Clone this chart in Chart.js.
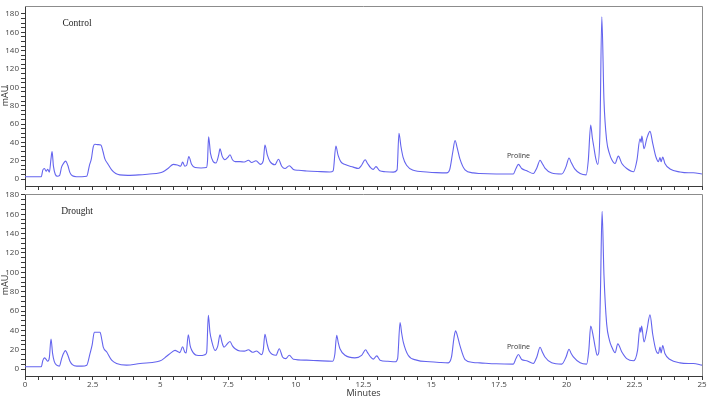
<!DOCTYPE html>
<html>
<head>
<meta charset="utf-8">
<script src="https://cdn.jsdelivr.net/npm/chart.js@4.4.1/dist/chart.umd.min.js"></script>
<style>
  html, body { margin: 0; padding: 0; background: #fff; }
  #wrap { position: relative; width: 709px; height: 397px; overflow: hidden; }
  #c1 { position: absolute; left: 0; top: 0; }
  #c2 { position: absolute; left: 0; top: 190px; }
</style>
</head>
<body>
<div id="wrap">
  <canvas id="c1" width="709" height="190"></canvas>
  <canvas id="c2" width="709" height="207"></canvas>
</div>
<script>
// ---------- DATA ----------
const panelLabels = ["Control", "Drought"];
const xTickLabels = [0, 2.5, 5, 7.5, 10, 12.5, 15, 17.5, 20, 22.5, 25];
const yTickLabels = [0, 20, 40, 60, 80, 100, 120, 140, 160, 180];
const xMinorStep = 0.5;
const yMinorStep = 5;
const prolineLabel = "Proline";
const prolineTime = 18.22;
const prolinePeak = [16, 15];

const controlTime = [0,0.6,0.66,0.72,0.78,0.84,0.9,0.96,1.0,1.05,1.12,1.2,1.28,1.35,1.42,1.5,1.58,1.66,1.75,1.9,2.1,2.28,2.38,2.45,2.52,2.58,2.7,2.8,2.88,2.95,3.05,3.2,3.35,3.5,3.8,4.2,4.6,4.95,5.1,5.3,5.48,5.65,5.75,5.82,5.9,5.97,6.05,6.15,6.28,6.5,6.7,6.74,6.78,6.85,6.95,7.05,7.15,7.2,7.28,7.38,7.5,7.57,7.66,7.76,7.94,8.1,8.25,8.37,8.53,8.7,8.8,8.86,8.95,9.05,9.23,9.36,9.48,9.6,9.76,9.91,10.1,10.4,10.8,11.26,11.38,11.48,11.56,11.66,11.8,12.12,12.31,12.43,12.56,12.65,12.76,12.86,12.96,13.1,13.3,13.6,13.74,13.81,13.88,13.96,14.09,14.34,14.83,15.2,15.57,15.68,15.8,15.88,15.96,16.06,16.25,16.55,16.8,17.4,18.03,18.13,18.22,18.34,18.53,18.77,18.9,19.02,19.1,19.2,19.45,19.82,19.98,20.09,20.17,20.3,20.5,20.72,20.8,20.89,20.95,21.0,21.08,21.15,21.23,21.3,21.38,21.48,21.58,21.67,21.79,21.91,22.04,22.22,22.47,22.6,22.71,22.75,22.78,22.86,22.96,23.08,23.18,23.3,23.39,23.45,23.49,23.55,23.63,23.82,24.19,24.5,24.68,25];
const controlSignal = [2.5,2.5,10,11.5,8.5,10.5,7.5,22,30,14,5,3,4,13,17,19.5,15,7,3.5,2.5,2.5,3,15,22,35,38,37.5,37,30,22,17,10,6,4.5,4,4.5,5.5,6.5,8,12,16,15,14,18.5,14,15,24.5,16,12.5,12,12.5,20,46,28,19,17.5,26,33,25,21,24,26.5,21,19,19,18.5,20.5,18,20,16,20,37,26,19,15.5,21.5,14,11.5,14.5,10.5,9.5,8.8,8.2,7.7,9,36,26,19,16,13,11.5,15,21,17,12.5,10.5,13.5,9,8,7.5,10,50,36,24,15,9.5,7.7,7,6.7,10,30,42,34,22,10,6.7,6,5.5,5.5,11.5,16,11.5,9,6,12,20.5,17,12,6.5,5.5,13.5,23,18,11,6,4.5,20,59,45,36,22,16,50,177,86,42,28,21,17,25,17,11.5,8,21,44,40,47,33,44,52,39,24,19,23.5,19,24,17,11,7.7,6.8,6.8,5.5];

const droughtTime = [0,0.6,0.66,0.72,0.78,0.84,0.9,0.96,1.02,1.08,1.17,1.27,1.35,1.42,1.49,1.58,1.66,1.75,1.91,2.1,2.28,2.4,2.48,2.56,2.77,2.84,2.89,3.02,3.2,3.38,3.75,4.25,4.86,5.05,5.23,5.4,5.54,5.65,5.72,5.82,5.9,5.95,6.03,6.1,6.16,6.34,6.5,6.65,6.71,6.77,6.83,6.89,7.02,7.12,7.2,7.28,7.35,7.47,7.57,7.66,7.76,7.94,8.1,8.25,8.4,8.55,8.74,8.8,8.86,8.94,9.02,9.27,9.39,9.51,9.63,9.76,9.91,10.4,10.8,11.36,11.44,11.51,11.57,11.63,11.82,12.18,12.43,12.58,12.65,12.74,12.86,12.99,13.11,13.4,13.67,13.76,13.85,13.91,13.97,14.15,14.46,14.95,15.3,15.63,15.75,15.84,15.9,15.98,16.06,16.25,16.55,16.8,17.4,18.03,18.13,18.22,18.34,18.53,18.77,18.9,19.02,19.1,19.2,19.45,19.82,19.98,20.09,20.17,20.25,20.5,20.74,20.82,20.89,20.99,21.06,21.13,21.19,21.25,21.31,21.38,21.48,21.58,21.67,21.79,21.89,22.04,22.22,22.47,22.62,22.71,22.74,22.77,22.86,22.96,23.08,23.18,23.3,23.39,23.45,23.49,23.55,23.63,23.82,24.19,24.5,24.68,25];
const droughtSignal = [2.4,2.4,9,11.5,10,8,12,31,16,8,4,3,10.5,16,19,14.5,8,4.5,3,3,4,16,25,38,38,30,22.7,17.6,9.2,5.8,4,5.8,7.5,9.2,13.2,17,19.3,18,17,23,17.5,16.6,35.5,24,19.3,14.2,14,14.9,17.6,55.5,38,29.5,19.3,24,35.5,27,22.7,26,28.5,24,21,18.6,18.5,20,17.3,18.6,14.9,20,36,26,18.6,14.2,21,12.5,10.8,14.2,10.2,9.2,8.7,8.1,15,35,27,21,14.2,11.5,14.2,20,17,13.2,10.2,13.6,9.2,8,7.5,10.8,48,37,27.8,14.2,9.2,7.5,6.8,6.4,12.5,32,39.5,33,24.4,9.8,6.8,6.4,5.4,5.1,10.8,15,9.8,8.5,5.8,12.5,22.5,18,12.5,6.4,5.1,12.5,20.5,16,12.5,6.4,5.1,19.3,44.5,33,22,14.2,17.6,80,163,97,46.4,30,22.7,16.9,26,17.6,10.8,8.5,19.3,43,38,44.5,28,39.5,56,36,19.3,16,22.7,16.6,24.4,16,9.8,6.4,5.8,5.8,4];

// ---------- STYLE ----------
const lineColor = 'rgb(100,100,238)';
const axisColor = '#3a3a3a';
const frameColor = '#8c8c8c';
const tickFont = { family: 'Open Sans', size: 8 };
const titleFont = { family: 'Open Sans', size: 9 };

const framePlugin = {
  id: 'frameAndLabels',
  afterDraw(chart, args, opts) {
    const { ctx, chartArea } = chart;
    const { left, top, right, bottom } = chartArea;
    ctx.save();
    ctx.strokeStyle = frameColor;
    ctx.lineWidth = 1;
    ctx.beginPath();
    ctx.moveTo(left, top + 0.5);
    ctx.lineTo(right + 0.5, top + 0.5);
    ctx.lineTo(right + 0.5, bottom);
    ctx.stroke();
    ctx.font = '9.5px "Liberation Serif"';
    ctx.fillStyle = '#1e1e1e';
    ctx.textAlign = 'center';
    ctx.textBaseline = 'middle';
    ctx.fillText(opts.label, left + 52, top + 17);
    const xs = chart.scales.x, ys = chart.scales.y;
    ctx.font = '7px "Open Sans"';
    ctx.fillStyle = '#333';
    ctx.fillText(prolineLabel, xs.getPixelForValue(prolineTime), ys.getPixelForValue(opts.peak) - 8);
    ctx.restore();
  }
};

function makeTicks(min, max, step) {
  const out = [];
  for (let v = min; v <= max + 1e-9; v += step) out.push({ value: Math.round(v * 100) / 100 });
  return out;
}

function buildChart(id, times, signal, label, peak, opts) {
  const points = times.map((t, i) => ({ x: t, y: signal[i] }));
  return new Chart(document.getElementById(id), {
    type: 'line',
    data: {
      datasets: [{
        data: points,
        borderColor: lineColor,
        borderWidth: 1.1,
        pointRadius: 0,
        fill: false,
        cubicInterpolationMode: 'monotone'
      }]
    },
    options: {
      responsive: false,
      animation: false,
      devicePixelRatio: 1,
      layout: { padding: { top: opts.padTop, right: 7, left: 0, bottom: 0 } },
      plugins: {
        legend: { display: false },
        tooltip: { enabled: false },
        frameAndLabels: { label: label, peak: peak }
      },
      scales: {
        x: {
          type: 'linear',
          min: xTickLabels[0],
          max: xTickLabels[xTickLabels.length - 1],
          afterBuildTicks: s => { s.ticks = makeTicks(xTickLabels[0], xTickLabels[xTickLabels.length - 1], xMinorStep); },
          afterFit: s => { s.height = opts.xHeight; },
          border: { color: axisColor, width: 1 },
          grid: { drawOnChartArea: false, drawTicks: true, tickLength: 4, color: axisColor },
          ticks: {
            display: opts.showXLabels,
            autoSkip: false,
            maxRotation: 0,
            padding: 0,
            color: '#444',
            font: tickFont,
            callback: v => (xTickLabels.includes(v) ? String(v) : '')
          },
          title: {
            display: opts.showXLabels,
            text: 'Minutes',
            color: '#333',
            font: titleFont,
            padding: { top: 0, bottom: -2 }
          }
        },
        y: {
          type: 'linear',
          min: opts.yMin,
          max: opts.yMax,
          afterBuildTicks: s => { s.ticks = makeTicks(yTickLabels[0], yTickLabels[yTickLabels.length - 1], yMinorStep); },
          afterFit: s => { s.width = 25; s.paddingTop = 0; s.paddingBottom = 0; },
          border: { color: axisColor, width: 1 },
          grid: { drawOnChartArea: false, drawTicks: true, tickLength: 4, color: axisColor },
          ticks: {
            autoSkip: false,
            padding: 2,
            color: '#444',
            font: tickFont,
            callback: v => (yTickLabels.includes(v) ? String(v) : '')
          },
          title: {
            display: true,
            text: 'mAU',
            color: '#333',
            font: titleFont,
            padding: 0
          }
        }
      }
    },
    plugins: [framePlugin]
  });
}

buildChart('c1', controlTime, controlSignal, panelLabels[0], prolinePeak[0],
  { padTop: 6, xHeight: 4, showXLabels: false, yMin: -7.6, yMax: 188.7 });
buildChart('c2', droughtTime, droughtSignal, panelLabels[1], prolinePeak[1],
  { padTop: 4, xHeight: 21, showXLabels: true, yMin: -7.2, yMax: 181 });
</script>
</body>
</html>
